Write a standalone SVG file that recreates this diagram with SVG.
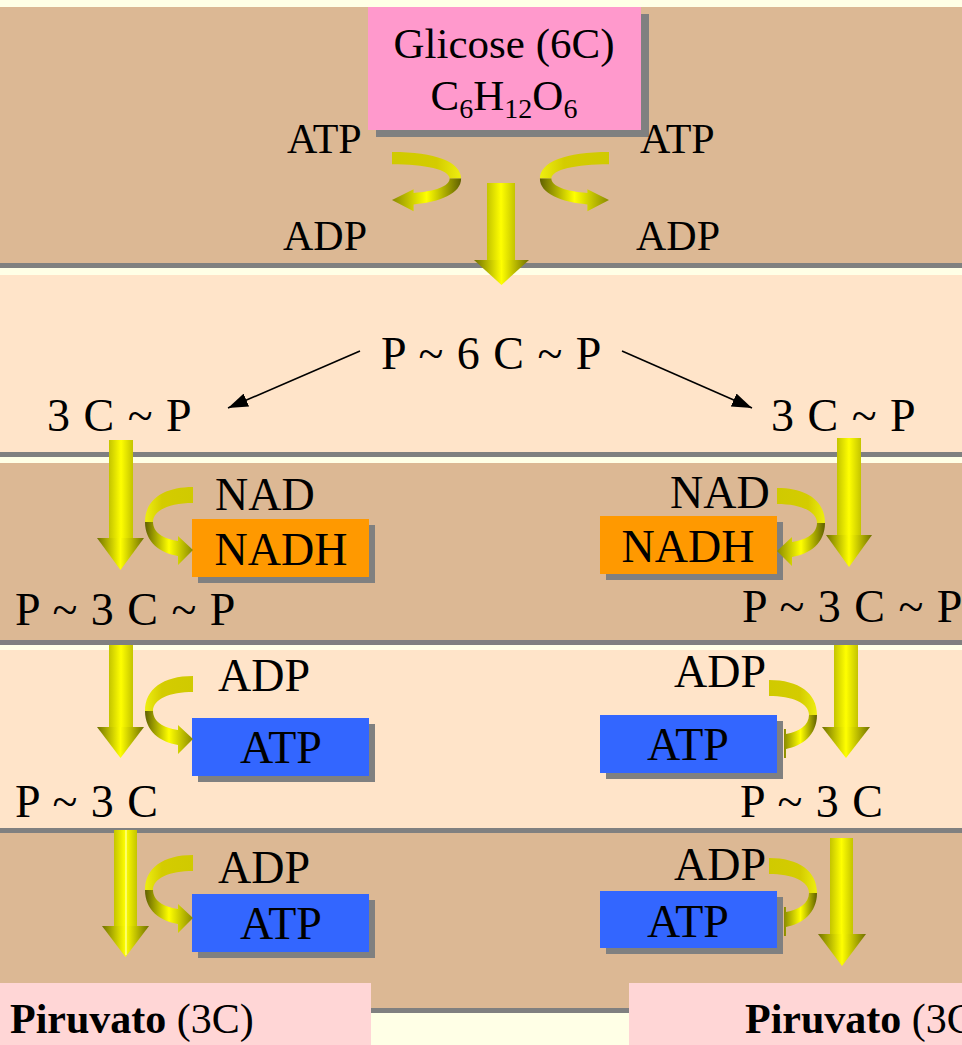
<svg xmlns="http://www.w3.org/2000/svg" width="962" height="1045" viewBox="0 0 962 1045">
<style>
text{font-family:"Liberation Serif","Times New Roman",serif;fill:#000}
.t42{font-size:42px}
.t46{font-size:46px}
.ws{word-spacing:2px}
.mid{text-anchor:middle}
.tan{fill:#DCB894}
.peach{fill:#FFE4C9}
.shade{fill:#808080}
.shaft{fill:url(#gShaft)}
.head{fill:url(#gHead)}
.nadh{fill:#FF9900}
.atp{fill:#3366FF}
.pir{fill:#FFD6D6}
.thin{stroke:#000;stroke-width:1.6;fill:none}
</style>
<defs>
<linearGradient id="gShaft" x1="0" y1="0" x2="1" y2="0">
<stop offset="0" stop-color="#C4C400"/><stop offset="0.5" stop-color="#FFFF00"/><stop offset="1" stop-color="#C4C400"/>
</linearGradient>
<linearGradient id="gHead" x1="0" y1="0" x2="1" y2="0">
<stop offset="0" stop-color="#707000"/><stop offset="0.5" stop-color="#FFFF00"/><stop offset="1" stop-color="#707000"/>
</linearGradient>
<linearGradient id="gUp" x1="0" y1="0" x2="1" y2="0">
<stop offset="0" stop-color="#EEEE10"/><stop offset="0.35" stop-color="#D4CC00"/><stop offset="1" stop-color="#D0CA00"/>
</linearGradient>
<linearGradient id="gLow" x1="0" y1="0" x2="1" y2="0">
<stop offset="0" stop-color="#606000"/><stop offset="0.5" stop-color="#FFFF00"/><stop offset="1" stop-color="#8A8A00"/>
</linearGradient>
<marker id="ah" viewBox="0 0 20 14" refX="20" refY="7" markerWidth="20" markerHeight="14" markerUnits="userSpaceOnUse" orient="auto">
<path d="M0,0 L20,7 L0,14 Z" fill="#000"/>
</marker>
<g id="curl">
<path d="M0,0 C-30,0 -48,13 -48,35 L-40,35 C-40,23 -23,16 0,16 Z" fill="url(#gUp)"/>
<path d="M-48,35 C-48,55 -33,66 -15,69 L-15,78 L0,63 L-15,49 L-15,54 C-30,52 -40,45 -40,35 Z" fill="url(#gLow)"/>
</g>
<g id="curlHidden">
<path d="M0,0 C-30,0 -48,13 -48,35 L-40,35 C-40,23 -23,16 0,16 Z" fill="url(#gUp)"/>
<path d="M-48,35 C-48,55 -33,66 -17,69 L-17,78 L-15,78 L-15,49 L-17,49 L-17,54 C-30,52 -40,45 -40,35 Z" fill="url(#gLow)"/>
</g>
</defs>
<rect width="962" height="1045" fill="#FFFFE6"/>
<g id="bands">
<rect class="shade" x="0" y="12" width="962" height="256"/>
<rect class="tan" x="0" y="7" width="962" height="256"/>
<rect class="shade" x="0" y="280" width="962" height="177"/>
<rect class="peach" x="0" y="275" width="962" height="177"/>
<rect class="shade" x="0" y="468" width="962" height="177"/>
<rect class="tan" x="0" y="463" width="962" height="177"/>
<rect class="shade" x="0" y="655" width="962" height="178"/>
<rect class="peach" x="0" y="650" width="962" height="178"/>
<rect class="shade" x="0" y="838" width="962" height="175"/>
<rect class="tan" x="0" y="833" width="962" height="175"/>
</g>
<g id="glicose">
<rect class="shade" x="376" y="14" width="273" height="123"/>
<rect x="368" y="7" width="273" height="123" fill="#FF99CC"/>
<text class="mid" font-size="43" x="504" y="58">Glicose (6C)</text>
<text class="mid" font-size="43" x="504" y="110">C<tspan font-size="28" dy="8">6</tspan><tspan dy="-8">H</tspan><tspan font-size="28" dy="8">12</tspan><tspan dy="-8">O</tspan><tspan font-size="28" dy="8">6</tspan></text>
</g>
<g id="atp-in-left"><text class="t42" x="287" y="153">ATP</text></g>
<g id="atp-in-right"><text class="t42" x="640" y="153">ATP</text></g>
<g id="adp-out-left"><text class="t42" x="283" y="250">ADP</text></g>
<g id="adp-out-right"><text class="t42" x="636" y="250">ADP</text></g>
<g id="p6cp"><text class="t46 ws" x="381" y="369">P ~ 6 C ~ P</text></g>
<g id="c3p-left"><text class="t46 ws" x="47" y="431">3 C ~ P</text></g>
<g id="c3p-right"><text class="t46 ws" x="771" y="431">3 C ~ P</text></g>
<g id="nad-left"><text class="t46" x="215" y="510">NAD</text></g>
<g id="nadh-left">
<rect class="shade" x="198" y="525" width="177" height="58"/>
<rect class="nadh" x="192" y="519" width="177" height="58"/>
<text class="t46 mid" x="281" y="565">NADH</text>
</g>
<g id="nad-right"><text class="t46" x="670" y="508">NAD</text></g>
<g id="nadh-right">
<rect class="shade" x="606" y="522" width="177" height="58"/>
<rect class="nadh" x="600" y="516" width="177" height="58"/>
<text class="t46 mid" x="688" y="562">NADH</text>
</g>
<g id="p3cp-left"><text class="t46 ws" x="15" y="625">P ~ 3 C ~ P</text></g>
<g id="p3cp-right"><text class="t46 ws" x="742" y="622">P ~ 3 C ~ P</text></g>
<g id="adp2-left"><text class="t46" x="218" y="691">ADP</text></g>
<g id="atp2-left">
<rect class="shade" x="198" y="724" width="177" height="58"/>
<rect class="atp" x="192" y="718" width="177" height="58"/>
<text class="t46 mid" x="281" y="763">ATP</text>
</g>
<g id="adp2-right"><text class="t46" x="674" y="687">ADP</text></g>
<g id="atp2-right">
<rect class="shade" x="606" y="721" width="177" height="58"/>
<rect class="atp" x="600" y="715" width="177" height="58"/>
<text class="t46 mid" x="688" y="760">ATP</text>
</g>
<g id="p3c-left"><text class="t46 ws" x="15" y="817">P ~ 3 C</text></g>
<g id="p3c-right"><text class="t46 ws" x="740" y="817">P ~ 3 C</text></g>
<g id="adp3-left"><text class="t46" x="218" y="883">ADP</text></g>
<g id="atp3-left">
<rect class="shade" x="198" y="900" width="177" height="58"/>
<rect class="atp" x="192" y="894" width="177" height="58"/>
<text class="t46 mid" x="281" y="939">ATP</text>
</g>
<g id="adp3-right"><text class="t46" x="674" y="880">ADP</text></g>
<g id="atp3-right">
<rect class="shade" x="606" y="897" width="177" height="57"/>
<rect class="atp" x="600" y="891" width="177" height="57"/>
<text class="t46 mid" x="688" y="937">ATP</text>
</g>
<g id="piruvato-left">
<rect class="pir" x="0" y="983" width="371" height="62"/>
<text class="t42" x="10" y="1033"><tspan font-weight="bold">Piruvato</tspan> (3C)</text>
</g>
<g id="piruvato-right">
<rect class="pir" x="629" y="983" width="333" height="62"/>
<text class="t42" x="745" y="1033"><tspan font-weight="bold">Piruvato</tspan> (3C)</text>
</g>
<g id="connectors">
<use href="#curl" transform="translate(392,152) scale(-1.44,0.76)"/>
<use href="#curl" transform="translate(609,152) scale(1.44,0.76)"/>
<rect class="shaft" x="487" y="183" width="28" height="78"/>
<polygon class="head" points="474,260 529,260 501.5,285"/>
<line class="thin" x1="360" y1="351" x2="228" y2="408" marker-end="url(#ah)"/>
<line class="thin" x1="622" y1="351" x2="752" y2="408" marker-end="url(#ah)"/>
<rect class="shaft" x="109" y="440" width="24" height="99"/>
<polygon class="head" points="97,538 144,538 120.5,570"/>
<rect class="shaft" x="837" y="438" width="24" height="98"/>
<polygon class="head" points="826,535 872,535 849,567"/>
<use href="#curl" transform="translate(193,487)"/>
<use href="#curl" transform="translate(777,488) scale(-1,1)"/>
<rect class="shaft" x="109" y="645" width="24" height="83"/>
<polygon class="head" points="97,727 144,727 120.5,758"/>
<rect class="shaft" x="834" y="645" width="24" height="83"/>
<polygon class="head" points="822,727 870,727 846,758"/>
<use href="#curl" transform="translate(193,676)"/>
<use href="#curlHidden" transform="translate(769,680) scale(-1,1)"/>
<rect class="shaft" x="114" y="830" width="23" height="97"/>
<polygon class="head" points="102,926 149,926 125.5,957"/>
<line x1="126" y1="830" x2="126" y2="955" stroke="#FFFFC8" stroke-width="1"/>
<rect class="shaft" x="830" y="838" width="23" height="97"/>
<polygon class="head" points="818,934 866,934 842,966"/>
<use href="#curl" transform="translate(193,855)"/>
<use href="#curlHidden" transform="translate(769,858) scale(-1,1)"/>
</g>
</svg>
